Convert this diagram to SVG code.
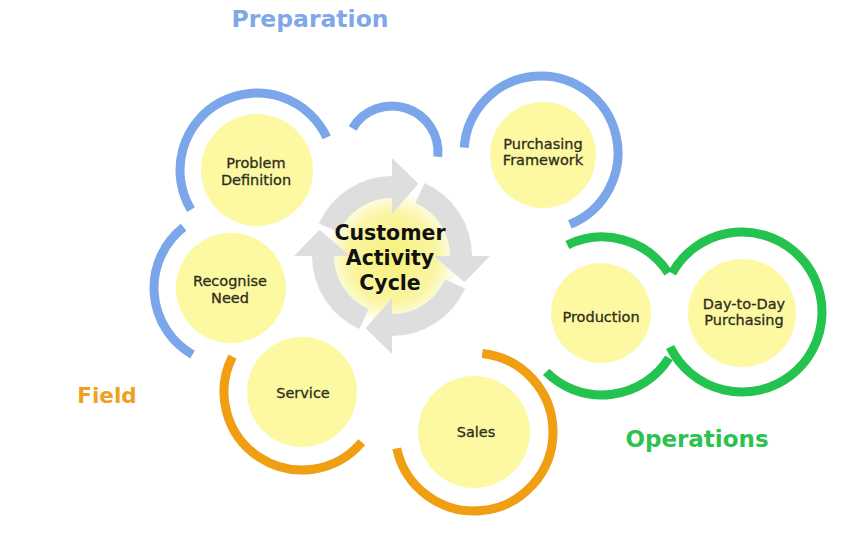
<svg xmlns="http://www.w3.org/2000/svg" width="856" height="547" viewBox="0 0 856 547">
  <style>
    .node { fill: #FDF9A2; }
    .lbl { font-family: "DejaVu Sans", Verdana, sans-serif; font-size: 14.5px; fill: #2E2E1C; stroke: #2E2E1C; stroke-width: 0.3; text-anchor: middle; }
    .arc { fill: none; stroke-width: 9; stroke-linecap: butt; }
    .blue { stroke: #7BA6E9; }
    .orange { stroke: #F09E12; }
    .green { stroke: #24C24F; }
    .cat { font-family: "DejaVu Sans", Verdana, sans-serif; font-weight: bold; text-anchor: middle; }
    .center { font-family: "DejaVu Sans", Verdana, sans-serif; font-weight: bold; font-size: 20.5px; fill: #111111; text-anchor: middle; }
  </style>
  <defs>
    <radialGradient id="yg" cx="392" cy="258" r="68" gradientUnits="userSpaceOnUse">
      <stop offset="0" stop-color="#F7F07A"/>
      <stop offset="0.65" stop-color="#FAF5A2"/>
      <stop offset="1" stop-color="#FFFFFF"/>
    </radialGradient>
    <path id="garrow" d="M 318.92 223.46 A 80 80 0 0 1 392 176 L 392 158 L 418.33 183.64 L 392 214 L 392 198 A 58 58 0 0 0 339.02 232.41 Z"/>
  </defs>
  <rect width="856" height="547" fill="#FFFFFF"/>

  <g id="category-labels">
    <text class="cat" x="310" y="27" font-size="23.5" fill="#7FA8E8">Preparation</text>
    <text class="cat" x="107" y="403" font-size="21.5" fill="#F0A020">Field</text>
    <text class="cat" x="697" y="447" font-size="23" fill="#2DC24F">Operations</text>
  </g>

  <g id="connectors">
    <path class="arc blue" d="M 352.57 128.31 A 46 46 0 0 1 437.75 156.81"/>
  </g>

  <g id="center-cycle">
    <circle cx="392" cy="258" r="68" fill="url(#yg)"/>
    <g fill="#DEDEDE">
      <use href="#garrow"/>
      <use href="#garrow" transform="rotate(90 392 256)"/>
      <use href="#garrow" transform="rotate(180 392 256)"/>
      <use href="#garrow" transform="rotate(270 392 256)"/>
    </g>
    <text class="center" x="390" y="240">Customer</text>
    <text class="center" x="390" y="265">Activity</text>
    <text class="center" x="390" y="290">Cycle</text>
  </g>

  <g id="problem-definition">
    <path class="arc blue" d="M 191.0 209.66 A 77 77 0 1 1 326.79 137.46"/>
    <circle class="node" cx="257" cy="170" r="56"/>
    <text class="lbl" x="256" y="168">Problem</text>
    <text class="lbl" x="256" y="184.5">Definition</text>
  </g>

  <g id="purchasing-framework">
    <path class="arc blue" d="M 464.2 147.6 A 77 77 0 1 1 569.84 224.39"/>
    <circle class="node" cx="543" cy="155" r="53"/>
    <text class="lbl" x="543" y="149">Purchasing</text>
    <text class="lbl" x="543" y="165">Framework</text>
  </g>

  <g id="recognise-need">
    <path class="arc blue" d="M 183.59 227.32 A 77 77 0 0 0 192.5 354.68"/>
    <circle class="node" cx="231" cy="288" r="55"/>
    <text class="lbl" x="230" y="286">Recognise</text>
    <text class="lbl" x="230" y="303">Need</text>
  </g>

  <g id="service">
    <path class="arc orange" d="M 232.5 356.59 A 78 78 0 0 0 361.75 442.14"/>
    <circle class="node" cx="302" cy="392" r="55"/>
    <text class="lbl" x="303" y="398">Service</text>
  </g>

  <g id="sales">
    <path class="arc orange" d="M 396.73 448.43 A 79 79 0 1 0 482.26 353.43"/>
    <circle class="node" cx="474" cy="432" r="56"/>
    <text class="lbl" x="476" y="437">Sales</text>
  </g>

  <g id="production">
    <path class="arc green" d="M 567.37 245.0 A 79 79 0 0 1 668.26 272.98"/>
    <path class="arc green" d="M 546.14 371.86 A 79 79 0 0 0 668.99 357.86"/>
    <circle class="node" cx="601" cy="313" r="50"/>
    <text class="lbl" x="601" y="322">Production</text>
  </g>

  <g id="day-to-day-purchasing">
    <path class="arc green" d="M 672.03 273.22 A 80 80 0 1 1 670.1 347.07"/>
    <circle class="node" cx="742" cy="313" r="54"/>
    <text class="lbl" x="744" y="309">Day-to-Day</text>
    <text class="lbl" x="744" y="325">Purchasing</text>
  </g>
</svg>
